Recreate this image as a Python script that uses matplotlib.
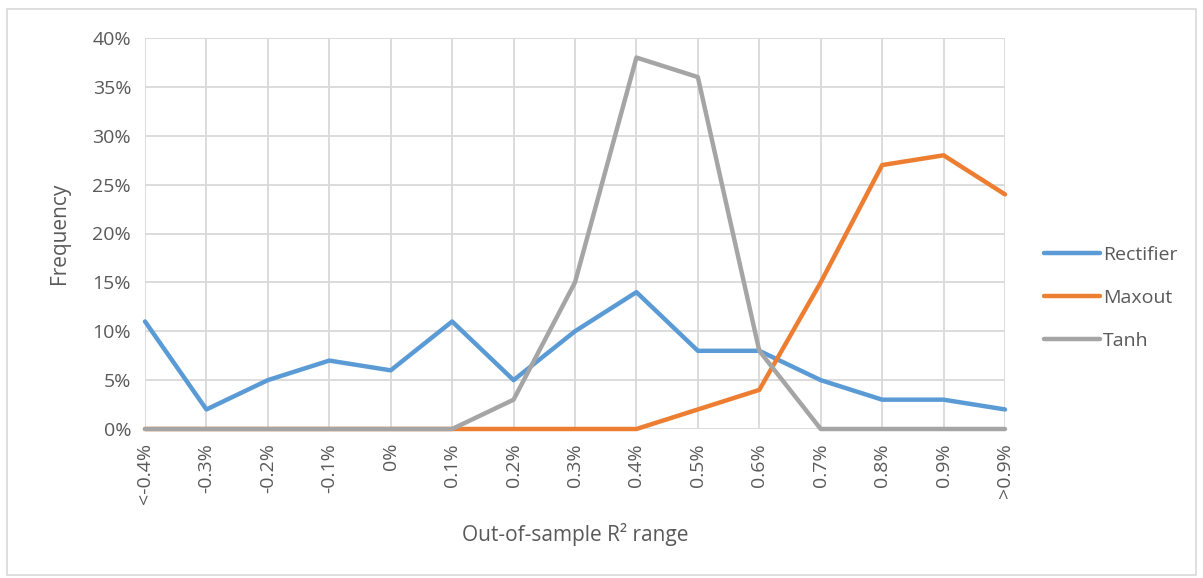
from matplotlib import use; use("Agg")
import matplotlib.pyplot as plt
from matplotlib.patches import Rectangle

categories = ["<-0.4%", "-0.3%", "-0.2%", "-0.1%", "0%", "0.1%", "0.2%", "0.3%",
              "0.4%", "0.5%", "0.6%", "0.7%", "0.8%", "0.9%", ">0.9%"]
rectifier = [11, 2, 5, 7, 6, 11, 5, 10, 14, 8, 8, 5, 3, 3, 2]
maxout = [0, 0, 0, 0, 0, 0, 0, 0, 0, 2, 4, 15, 27, 28, 24]
tanh = [0, 0, 0, 0, 0, 0, 3, 15, 38, 36, 8, 0, 0, 0, 0]
yticks = [0, 5, 10, 15, 20, 25, 30, 35, 40]

plt.rcParams["font.family"] = ["Open Sans", "DejaVu Sans"]
txt = "#595959"
grid = "#d9d9d9"

fig = plt.figure(figsize=(12.03, 5.78), dpi=100)
fig.patches.append(Rectangle((7/1203, 3/578), 1189/1203, 566/578, transform=fig.transFigure,
                             fill=False, edgecolor="#d9d9d9", linewidth=1.2))
ax = fig.add_axes([145/1203, 1 - 429/578, 860/1203, 391/578])

x = range(len(categories))
for ys, c, name in [(rectifier, "#5B9BD5", "Rectifier"), (maxout, "#ED7D31", "Maxout"),
                    (tanh, "#A5A5A5", "Tanh")]:
    ax.plot(x, ys, color=c, lw=3.2, label=name, solid_capstyle="round", zorder=3, clip_on=False)

ax.set_xlim(0, len(categories) - 1)
ax.set_ylim(0, 40)
ax.set_xticks(list(x))
ax.set_xticklabels(categories, rotation=90, color=txt, fontsize=14)
ax.set_yticks(yticks)
ax.set_yticklabels([f"{v}%" for v in yticks], color=txt, fontsize=14)
ax.tick_params(length=0, pad=10)
ax.grid(True, color=grid, lw=1.3)
ax.set_axisbelow(True)
for s in ax.spines.values():
    s.set_visible(False)

ax.set_xlabel("Out-of-sample R² range", color=txt, fontsize=15, labelpad=14)
ax.set_ylabel("Frequency", color=txt, fontsize=15, labelpad=16)

ax.legend(loc="center left", bbox_to_anchor=(1.025, 0.335), frameon=False, fontsize=14,
          labelcolor=txt, handlelength=2.9, handletextpad=0.15, labelspacing=1.3)

fig.savefig("out.png", dpi=100)
